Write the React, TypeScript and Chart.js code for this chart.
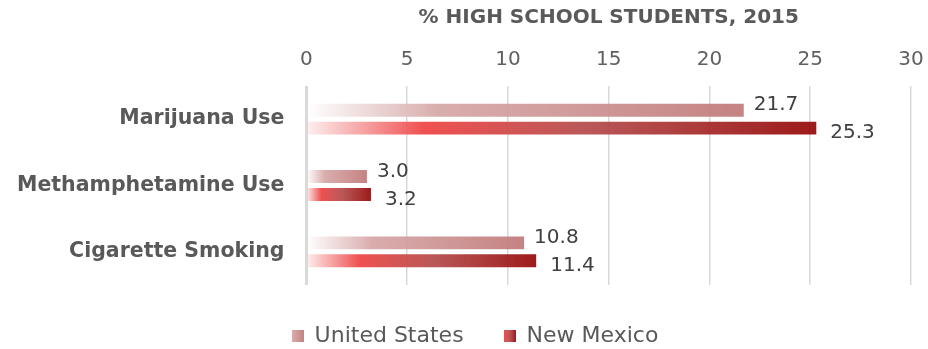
import React, { useEffect, useRef } from "react";
import { Chart, registerables } from "chart.js";

Chart.register(...registerables);

const categories = ["Marijuana Use", "Methamphetamine Use", "Cigarette Smoking"];
const seriesNames = ["United States", "New Mexico"];
const usValues = [21.7, 3.0, 10.8];
const nmValues = [25.3, 3.2, 11.4];
const axisTitle = "% HIGH SCHOOL STUDENTS, 2015";
const xMin = 0;
const xMax = 30;
const xStep = 5;

const FONT = "'DejaVu Sans', sans-serif";

const usStops: [number, string][] = [
  [0, "rgba(255,255,255,0.9)"],
  [0.3, "rgba(214,166,166,0.92)"],
  [1, "rgba(194,124,124,0.95)"],
];
const nmStops: [number, string][] = [
  [0, "rgba(253,238,238,0.92)"],
  [0.23, "rgba(238,66,66,0.92)"],
  [0.55, "rgba(180,74,74,0.92)"],
  [1, "rgba(152,14,14,0.95)"],
];

function makeGradient(ctx: CanvasRenderingContext2D, x0: number, x1: number, stops: [number, string][]) {
  const g = ctx.createLinearGradient(x0, 0, x1, 0);
  stops.forEach(([o, c]) => g.addColorStop(o, c));
  return g;
}

function legendSwatch(stops: [number, string][], size: number) {
  const c = document.createElement("canvas");
  c.width = size;
  c.height = size;
  const cx = c.getContext("2d")!;
  const g = cx.createLinearGradient(0, 0, size, 0);
  const sub = stops.slice(1);
  sub.forEach(([o, col], i) => g.addColorStop(sub.length === 1 ? 0 : i / (sub.length - 1), col));
  cx.fillStyle = g;
  cx.fillRect(0, 0, size, size);
  return c;
}

function barFill(stops: [number, string][]) {
  return (c: any) => {
    const chart = c.chart;
    const xs = chart.scales && chart.scales.x;
    if (!xs || c.type !== "data" || typeof c.raw !== "number") return stops[stops.length - 1][1];
    const x0 = xs.getPixelForValue(0);
    const x1 = xs.getPixelForValue(c.raw);
    return makeGradient(chart.ctx, x0, x1, stops);
  };
}

const dataLabelPlugin = {
  id: "dataLabels",
  afterDatasetsDraw(chart: any) {
    const ctx = chart.ctx as CanvasRenderingContext2D;
    ctx.save();
    ctx.font = `400 20px ${FONT}`;
    ctx.fillStyle = "#404040";
    ctx.textAlign = "left";
    ctx.textBaseline = "middle";
    chart.data.datasets.forEach((ds: any, i: number) => {
      const meta = chart.getDatasetMeta(i);
      meta.data.forEach((bar: any, j: number) => {
        const v = ds.data[j] as number;
        const dx = i === 0 ? 10 : 14;
        const dy = i === 0 ? -5 : 5;
        ctx.fillText(v.toFixed(1), bar.x + dx, bar.y + dy);
      });
    });
    ctx.restore();
  },
};

// nudge the legend block to the right, as in the reference layout
const legendShiftPlugin = {
  id: "legendShift",
  afterLayout(chart: any) {
    if (chart.legend) chart.legend.left += 44;
  },
};

export default function App() {
  const ref = useRef<HTMLCanvasElement>(null);

  useEffect(() => {
    document.body.style.margin = "0";
    const canvas = ref.current!;
    const swatches = [legendSwatch(usStops, 12), legendSwatch(nmStops, 12)];
    const chart = new Chart(canvas, {
      type: "bar",
      data: {
        labels: categories,
        datasets: [
          {
            label: seriesNames[0],
            data: usValues,
            backgroundColor: barFill(usStops) as any,
            borderWidth: 0,
            categoryPercentage: 0.54,
            barPercentage: 0.72,
          },
          {
            label: seriesNames[1],
            data: nmValues,
            backgroundColor: barFill(nmStops) as any,
            borderWidth: 0,
            categoryPercentage: 0.54,
            barPercentage: 0.72,
          },
        ],
      },
      options: {
        indexAxis: "y",
        animation: false,
        responsive: true,
        maintainAspectRatio: false,
        layout: { padding: { left: -5, right: 17, top: 6, bottom: -8 } },
        scales: {
          x: {
            position: "top",
            min: xMin,
            max: xMax,
            afterFit: (scale: any) => {
              scale.paddingRight = 0;
            },
            ticks: {
              stepSize: xStep,
              color: "#606060",
              font: { family: FONT, size: 20, weight: "normal" as any },
              padding: 14,
            },
            grid: {
              color: "#d9d9d9",
              lineWidth: (c: any) => (c.tick && c.tick.value === 0 ? 3 : 1.5),
              drawTicks: false,
            },
            border: { display: false },
            title: {
              display: true,
              text: axisTitle,
              color: "#595959",
              font: { family: FONT, size: 20, weight: "bold" as any },
              padding: { top: 0, bottom: 4 },
            },
          },
          y: {
            ticks: {
              color: "#595959",
              font: { family: FONT, size: 20.5, weight: "bold" as any },
              padding: 22,
            },
            grid: { display: false, drawTicks: false },
            border: { display: false },
          },
        },
        plugins: {
          legend: {
            position: "bottom",
            labels: {
              color: "#595959",
              font: { family: FONT, size: 22 },
              usePointStyle: true,
              boxWidth: 12,
              boxHeight: 12,
              padding: 40,
              generateLabels: () =>
                seriesNames.map((n, i) => ({
                  text: n,
                  pointStyle: swatches[i] as any,
                  fillStyle: "transparent",
                  strokeStyle: "transparent",
                  lineWidth: 0,
                  hidden: false,
                  datasetIndex: i,
                  fontColor: "#595959",
                })),
            },
          },
          tooltip: { enabled: false },
        },
      },
      plugins: [dataLabelPlugin, legendShiftPlugin],
    });
    return () => chart.destroy();
  }, []);

  return (
    <div style={{ position: "relative", width: 928, height: 349 }}>
      <canvas ref={ref} />
    </div>
  );
}
